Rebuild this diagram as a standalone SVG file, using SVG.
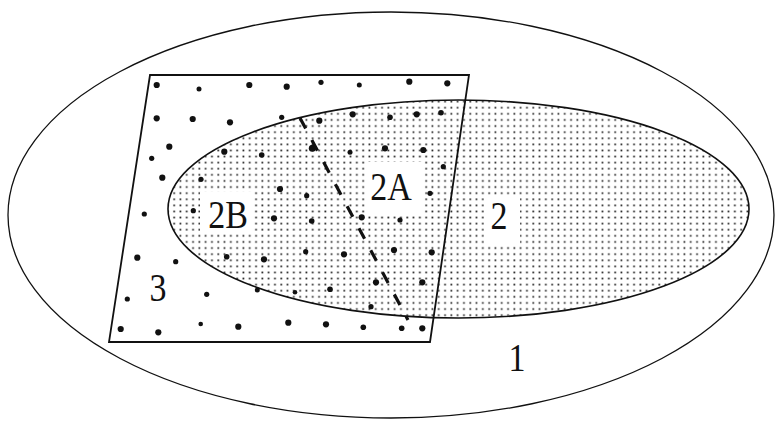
<svg xmlns="http://www.w3.org/2000/svg" width="776" height="423" viewBox="0 0 776 423">
  <defs>
    <pattern id="fine" patternUnits="userSpaceOnUse" x="1" y="1" width="6.3" height="6.1">
      <rect x="2.2" y="2.2" width="1.7" height="1.7" fill="#222"/>
    </pattern>
    <style>
      .ln { fill: none; stroke: #111; }
      .big { fill: #111; }
      .lbl { font-family: "Liberation Serif", "Times New Roman", serif; font-size: 34px; fill: #111; text-anchor: middle; }
      .clear { fill: #fff; stroke: none; }
    </style>
  </defs>
  <rect width="776" height="423" fill="#fff"/>

  <g id="region1">
    <ellipse class="ln" cx="391" cy="215" rx="383" ry="203" stroke-width="1.3"/>
  </g>

  <g id="region2">
    <ellipse cx="458.5" cy="209" rx="290.5" ry="109" fill="url(#fine)" stroke="none"/>
    <rect class="clear" x="200" y="192" width="54" height="42"/>
    <rect class="clear" x="365" y="162" width="57" height="51"/>
    <rect class="clear" x="484" y="198" width="36" height="46"/>
    <ellipse class="ln" cx="458.5" cy="209" rx="290.5" ry="109" stroke-width="1.6"/>
  </g>

  <g id="region3">
    <polygon class="ln" points="150,75 469,75 430,342 109,342" stroke-width="1.8"/>
    <g class="big">
      <circle cx="156.7" cy="85" r="3.1"/>
      <circle cx="199" cy="89" r="2.5"/>
      <circle cx="249.3" cy="85" r="3.1"/>
      <circle cx="286.7" cy="86.7" r="3.1"/>
      <circle cx="156.7" cy="118.3" r="3.1"/>
      <circle cx="192.7" cy="119" r="3.1"/>
      <circle cx="230" cy="122.3" r="3.1"/>
      <circle cx="281.7" cy="117.3" r="2.6"/>
      <circle cx="169.3" cy="146.7" r="3.1"/>
      <circle cx="151.7" cy="158.3" r="2.6"/>
      <circle cx="224.3" cy="151.7" r="3.1"/>
      <circle cx="261.7" cy="155" r="2.8"/>
      <circle cx="162.3" cy="177.7" r="3.1"/>
      <circle cx="201" cy="179.3" r="2.6"/>
      <circle cx="280" cy="189" r="3.1"/>
      <circle cx="321" cy="82.3" r="2.6"/>
      <circle cx="359.3" cy="85" r="2.5"/>
      <circle cx="409.3" cy="81.7" r="3.1"/>
      <circle cx="447.3" cy="83.3" r="3.1"/>
      <circle cx="319.3" cy="120.7" r="3.1"/>
      <circle cx="352.7" cy="114.3" r="3.1"/>
      <circle cx="390" cy="117.3" r="2.8"/>
      <circle cx="416.7" cy="114.3" r="3.1"/>
      <circle cx="441" cy="112.7" r="2.8"/>
      <circle cx="312.3" cy="148.3" r="3.5"/>
      <circle cx="350" cy="152.3" r="2.5"/>
      <circle cx="385" cy="148.3" r="3.1"/>
      <circle cx="423.3" cy="150" r="3.1"/>
      <circle cx="443.3" cy="166.7" r="2.6"/>
      <circle cx="306.7" cy="195.7" r="2.6"/>
      <circle cx="430" cy="193.3" r="2.6"/>
      <circle cx="144.3" cy="214" r="2.6"/>
      <circle cx="193.3" cy="210.7" r="2.6"/>
      <circle cx="274" cy="218.3" r="3.1"/>
      <circle cx="137.3" cy="257.7" r="3.1"/>
      <circle cx="175.7" cy="261.7" r="2.6"/>
      <circle cx="226.7" cy="256.7" r="2.8"/>
      <circle cx="264" cy="259.3" r="3.1"/>
      <circle cx="127.3" cy="299" r="2.6"/>
      <circle cx="206.7" cy="294.3" r="2.6"/>
      <circle cx="257.3" cy="290" r="2.5"/>
      <circle cx="120.7" cy="329" r="3.1"/>
      <circle cx="158.3" cy="332.3" r="3.1"/>
      <circle cx="200.7" cy="324" r="2.3"/>
      <circle cx="238.3" cy="326.7" r="3.1"/>
      <circle cx="288.3" cy="322.7" r="3.1"/>
      <circle cx="311.7" cy="221" r="2.8"/>
      <circle cx="361.7" cy="217.3" r="3.1"/>
      <circle cx="400" cy="220" r="2.6"/>
      <circle cx="305.7" cy="251.7" r="2.6"/>
      <circle cx="344" cy="254.3" r="3.1"/>
      <circle cx="394" cy="250" r="3.1"/>
      <circle cx="431.7" cy="252.3" r="3.1"/>
      <circle cx="330" cy="289.3" r="2.8"/>
      <circle cx="376" cy="282.3" r="3.1"/>
      <circle cx="422.3" cy="282.3" r="3.1"/>
      <circle cx="295" cy="292.3" r="2.3"/>
      <circle cx="371" cy="306.7" r="2.6"/>
      <circle cx="326" cy="324.3" r="3.1"/>
      <circle cx="363.3" cy="327.3" r="2.8"/>
      <circle cx="401.7" cy="328.3" r="2.8"/>
      <circle cx="422.3" cy="328.3" r="3.1"/>
    </g>
  </g>

  <g id="divider">
    <line class="ln" x1="300" y1="118" x2="408" y2="320" stroke-width="3.2" stroke-dasharray="12 13"/>
  </g>

  <g id="labels">
    <text class="lbl" transform="translate(228,228) scale(1,1.15)">2B</text>
    <text class="lbl" transform="translate(391,200) scale(1,1.15)">2A</text>
    <text class="lbl" transform="translate(499,229) scale(1,1.15)">2</text>
    <text class="lbl" transform="translate(158,301) scale(1,1.15)">3</text>
    <text class="lbl" transform="translate(517,371) scale(1,1.15)">1</text>
  </g>
</svg>
